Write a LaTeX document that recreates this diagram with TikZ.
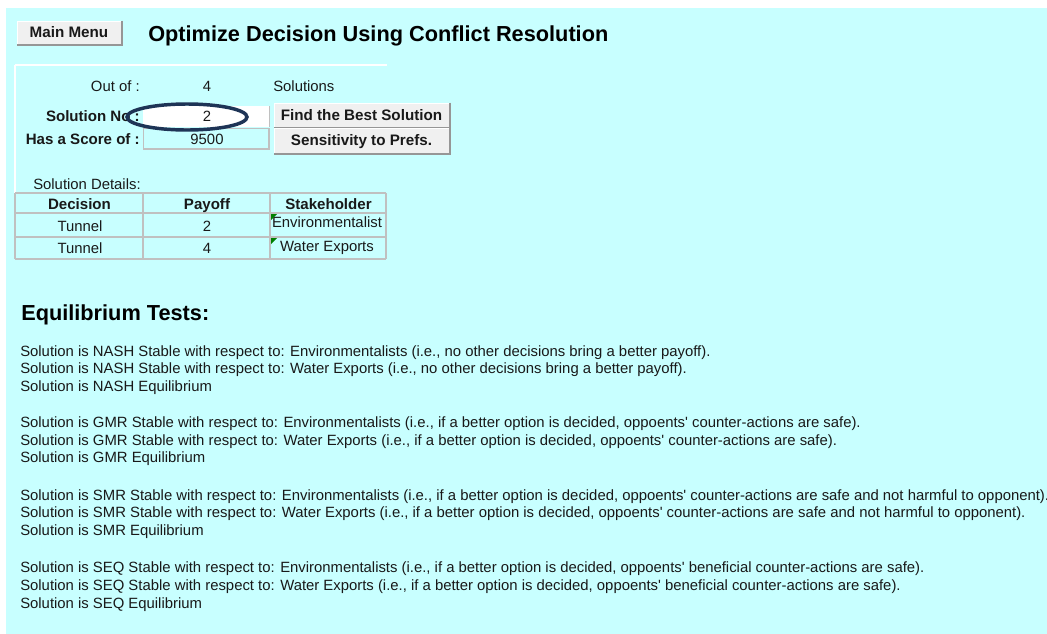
\documentclass[tikz,border=0pt]{standalone}
\usepackage{fontspec}
\setmainfont{Liberation Sans}
\definecolor{bgcyan}{RGB}{200,255,255}
\definecolor{gridgray}{RGB}{192,192,192}
\definecolor{btngray}{RGB}{240,240,240}
\definecolor{btnshadow}{RGB}{150,150,150}
\definecolor{navy}{RGB}{30,52,86}
\definecolor{txtc}{RGB}{25,25,25}
\definecolor{flag}{RGB}{0,128,0}
\tikzset{
  body/.style={inner sep=0pt, anchor=base west, font=\fontsize{11.15pt}{13pt}\selectfont, text=txtc},
  bodyc/.style={inner sep=0pt, anchor=base, font=\fontsize{11.15pt}{13pt}\selectfont, text=txtc},
  bodyr/.style={inner sep=0pt, anchor=base east, font=\fontsize{11.15pt}{13pt}\selectfont, text=txtc},
  boldr/.style={inner sep=0pt, anchor=base east, font=\fontsize{11.3pt}{13pt}\selectfont\bfseries, text=txtc},
  boldc/.style={inner sep=0pt, anchor=base, font=\fontsize{11.3pt}{13pt}\selectfont\bfseries, text=txtc},
  head/.style={inner sep=0pt, anchor=base west, font=\fontsize{16.3pt}{19pt}\selectfont\bfseries, text=black},
  btn/.style={rectangle, fill=btngray, draw=white, line width=0.75pt, inner sep=0pt,
    text height=8pt, text depth=0pt, font=\fontsize{11.4pt}{13pt}\selectfont\bfseries, text=txtc},
  shadowline/.style={draw=btnshadow, line width=1.5pt},
  grid/.style={draw=gridgray, line width=1.5pt},
  frameline/.style={draw=white, line width=1.5pt},
  flagtri/.style={fill=flag, draw=none},
}
\begin{document}
\begin{tikzpicture}[x=0.75pt,y=-0.75pt]
\useasboundingbox (0,0) rectangle (1047,633);
\fill[white] (0,0) rectangle (1047,633);
\fill[bgcyan] (6,8) rectangle (1050,640);

% Main menu button and title
\node[btn, minimum width=78pt, minimum height=17.25pt] (mainmenu) at (69,32.5) {Main Menu};
\draw[shadowline] (mainmenu.north east) -- (mainmenu.south east) -- (mainmenu.south west);
\node[head] (title) at (148,41) {Optimize Decision Using Conflict Resolution};

% white frame of the upper area
\draw[frameline] (15,65) -- (387,65);
\draw[frameline] (15,65) -- (15,193);

% Out of row
\node[bodyr] (outof) at (140,91) {Out of :};
\node[bodyc] (outofn) at (207,91) {4};
\node[body] (solutions) at (273,91) {Solutions};

% Solution No row
\node[boldr] (solno) at (140,121) {Solution No :};
\fill[white] (143,106) rectangle (269,127);
\draw[gridgray, line width=0.75pt] (269,106) -- (269,127);
\node[bodyc] (solnov) at (207,121) {2};

% Score row
\node[boldr] (score) at (140,144) {Has a Score of :};
\draw[gridgray, line width=0.75pt] (143,128) rectangle (269,149);
\draw[gridgray, line width=1.5pt] (269,128) -- (269,149) -- (143,149);
\node[bodyc] (scorev) at (207,144) {9500};

% highlight ellipse
\draw[navy, line width=2.6pt] (187,117) ellipse [x radius=60, y radius=13];

% Buttons
\node[btn, minimum width=131.25pt, minimum height=18pt] (findbest) at (361.5,115) {Find the Best Solution};
\draw[shadowline] (findbest.north east) -- (findbest.south east) -- (findbest.south west);
\node[btn, minimum width=131.25pt, minimum height=18.75pt] (sens) at (361.5,140.5) {Sensitivity to Prefs.};
\draw[shadowline] (sens.north east) -- (sens.south east) -- (sens.south west);

% Solution details table
\node[body] (details) at (33,189) {Solution Details:};
\draw[grid] (15,193) -- (386,193);
\draw[grid] (15,213) -- (386,213);
\draw[grid] (15,237) -- (386,237);
\draw[grid] (15,259) -- (386,259);
\draw[grid] (15,193) -- (15,259);
\draw[grid] (143,193) -- (143,259);
\draw[grid] (270,193) -- (270,259);
\draw[grid] (386,193) -- (386,259);

\node[boldc] (hdec) at (79.5,209) {Decision};
\node[boldc] (hpay) at (207,209) {Payoff};
\node[boldc] (hstk) at (328.5,209) {Stakeholder};

\node[bodyc] (r1dec) at (80,231) {Tunnel};
\node[bodyc] (r1pay) at (207,231) {2};
\node[bodyc] (r1stk) at (327,227) {Environmentalist};
\node[bodyc] (r2dec) at (80,253) {Tunnel};
\node[bodyc] (r2pay) at (207,253) {4};
\node[bodyc] (r2stk) at (327,251) {Water Exports};

\fill[flagtri] (271,214) -- (277,214) -- (271,220) -- cycle;
\fill[flagtri] (271,238) -- (277,238) -- (271,244) -- cycle;

% Equilibrium tests
\node[head] (eqhead) at (21,320) {Equilibrium Tests:};

\node[body] (n1) at (20,356) {Solution is NASH Stable with respect to: Environmentalists (i.e., no other decisions bring a better payoff).};
\node[body] (n2) at (20,373.6) {Solution is NASH Stable with respect to: Water Exports (i.e., no other decisions bring a better payoff).};
\node[body] (n3) at (20,391.2) {Solution is NASH Equilibrium};

\node[body] (g1) at (20,427.5) {Solution is GMR Stable with respect to: Environmentalists (i.e., if a better option is decided, oppoents\textquotesingle\ counter-actions are safe).};
\node[body] (g2) at (20,445.1) {Solution is GMR Stable with respect to: Water Exports (i.e., if a better option is decided, oppoents\textquotesingle\ counter-actions are safe).};
\node[body] (g3) at (20,462.7) {Solution is GMR Equilibrium};

\node[body] (s1) at (20,500) {Solution is SMR Stable with respect to: Environmentalists (i.e., if a better option is decided, oppoents\textquotesingle\ counter-actions are safe and not harmful to opponent).};
\node[body] (s2) at (20,517.6) {Solution is SMR Stable with respect to: Water Exports (i.e., if a better option is decided, oppoents\textquotesingle\ counter-actions are safe and not harmful to opponent).};
\node[body] (s3) at (20,535.2) {Solution is SMR Equilibrium};

\node[body] (q1) at (20,572.8) {Solution is SEQ Stable with respect to: Environmentalists (i.e., if a better option is decided, oppoents\textquotesingle\ beneficial counter-actions are safe).};
\node[body] (q2) at (20,590.4) {Solution is SEQ Stable with respect to: Water Exports (i.e., if a better option is decided, oppoents\textquotesingle\ beneficial counter-actions are safe).};
\node[body] (q3) at (20,608) {Solution is SEQ Equilibrium};
\end{tikzpicture}
\end{document}
